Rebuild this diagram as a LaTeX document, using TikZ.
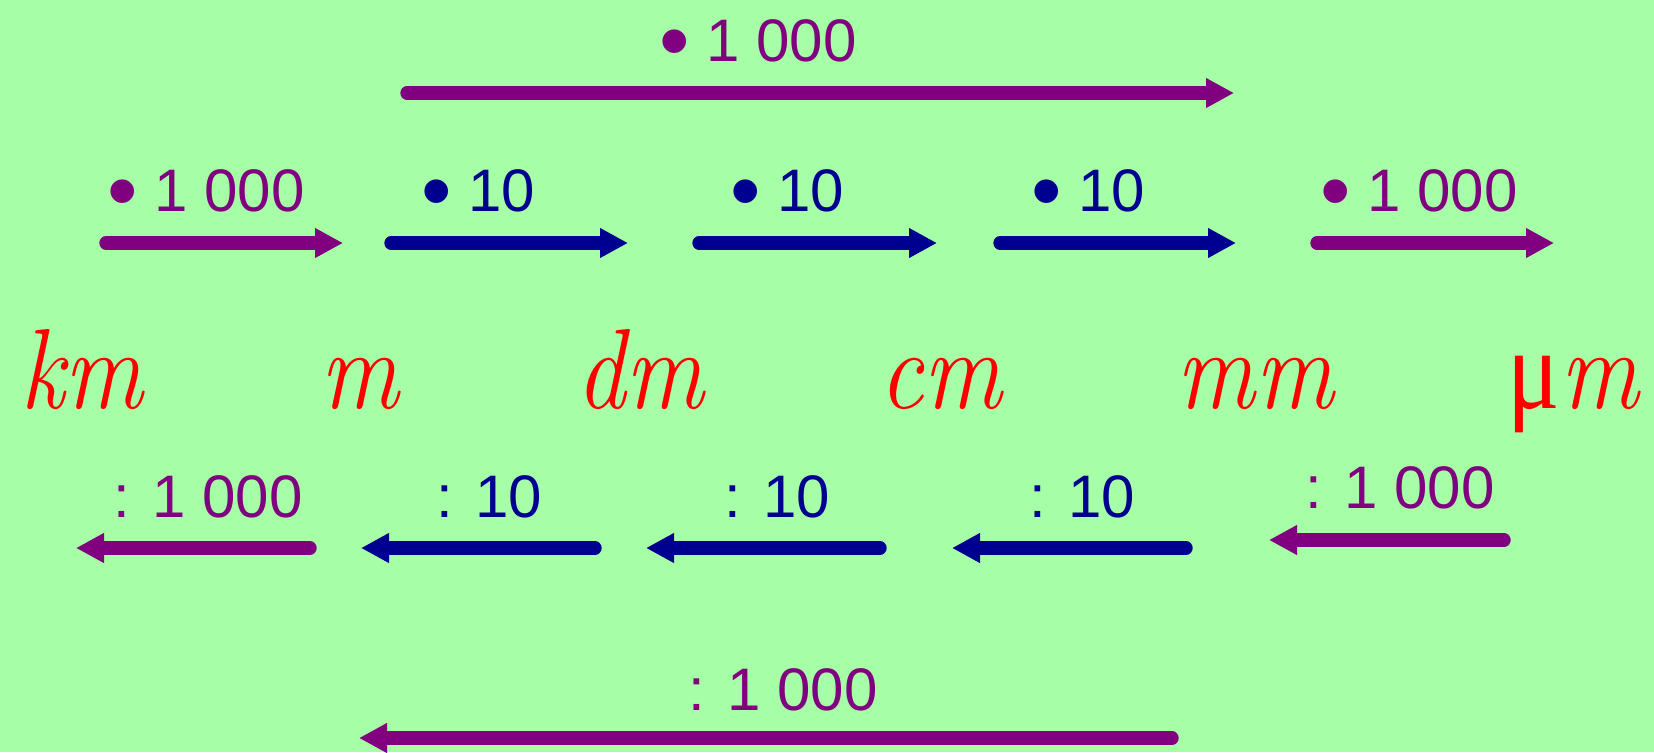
\documentclass[tikz,border=0pt]{standalone}
\usepackage{fontspec}
\setmainfont{Liberation Sans}
\newfontfamily\unitfont{Latin Modern Roman}
\newfontfamily\greekfont{Liberation Serif}
\usetikzlibrary{arrows.meta}
\definecolor{bg}{RGB}{166,255,166}
\definecolor{pur}{RGB}{128,0,128}
\definecolor{nav}{RGB}{0,0,144}
\definecolor{unitred}{RGB}{255,0,0}
\tikzset{
  arr/.style={line width=6.7pt, line cap=round, -{Triangle[length=14pt,width=14pt]}},
  lbl/.style={anchor=base, inner sep=0pt, font=\fontsize{30pt}{36pt}\selectfont},
  unit/.style={anchor=base, inner sep=0pt, text=unitred, font=\fontsize{57pt}{60pt}\selectfont\unitfont\itshape},
}
\newcommand{\ut}[1]{\scalebox{0.86}[1]{#1}}
\newcommand{\bul}{\raisebox{-4.5pt}{\scalebox{1.45}{•}}}
\begin{document}
\begin{tikzpicture}[x=0.5pt,y=-0.5pt]
\fill[bg] (0,0) rectangle (1654,752);
\useasboundingbox (0,0) rectangle (1654,752);
% top
\node[lbl,text=pur] (ltop) at (758,61) {\bul\ 1 000};
\coordinate (t1) at (407,93); \coordinate (t2) at (1234,93);
\draw[arr,pur] (t1) -- (t2);
% row 2 labels
\node[lbl,text=pur] (l1) at (206,211) {\bul\ 1 000};
\node[lbl,text=nav] (l2) at (478,211) {\bul\ 10};
\node[lbl,text=nav] (l3) at (787,211) {\bul\ 10};
\node[lbl,text=nav] (l4) at (1088,211) {\bul\ 10};
\node[lbl,text=pur] (l5) at (1419,211) {\bul\ 1 000};
% row 2 arrows
\coordinate (a1s) at (106,243); \coordinate (a1e) at (343,243);
\coordinate (a2s) at (391,243); \coordinate (a2e) at (628,243);
\coordinate (a3s) at (699,243); \coordinate (a3e) at (937,243);
\coordinate (a4s) at (1000,243); \coordinate (a4e) at (1236,243);
\coordinate (a5s) at (1317,243); \coordinate (a5e) at (1554,243);
\draw[arr,pur] (a1s) -- (a1e);
\draw[arr,nav] (a2s) -- (a2e);
\draw[arr,nav] (a3s) -- (a3e);
\draw[arr,nav] (a4s) -- (a4e);
\draw[arr,pur] (a5s) -- (a5e);
% units
\node[unit] (km) at (82,408) {\ut{km}};
\node[unit] (m) at (360,408) {\ut{m}};
\node[unit] (dm) at (640,408) {\ut{dm}};
\node[unit] (cm) at (941,408) {\ut{cm}};
\node[unit] (mm) at (1255,408) {\ut{mm}};
\node[unit] (um) at (1573,408) {\ut{{\greekfont\upshape μ}m}};
% row 4 labels
\node[lbl,text=pur] (b1) at (208,517) {: 1 000};
\node[lbl,text=nav] (b2) at (489,517) {: 10};
\node[lbl,text=nav] (b3) at (777,517) {: 10};
\node[lbl,text=nav] (b4) at (1082,517) {: 10};
\node[lbl,text=pur] (b5) at (1400,508) {: 1 000};
% row 4 arrows
\coordinate (c1s) at (310,548); \coordinate (c1e) at (76,548);
\coordinate (c2s) at (595,548); \coordinate (c2e) at (361,548);
\coordinate (c3s) at (880,548); \coordinate (c3e) at (646,548);
\coordinate (c4s) at (1186,548); \coordinate (c4e) at (952,548);
\coordinate (c5s) at (1504,540); \coordinate (c5e) at (1269,540);
\draw[arr,pur] (c1s) -- (c1e);
\draw[arr,nav] (c2s) -- (c2e);
\draw[arr,nav] (c3s) -- (c3e);
\draw[arr,nav] (c4s) -- (c4e);
\draw[arr,pur] (c5s) -- (c5e);
% bottom
\node[lbl,text=pur] (lbot) at (783,710) {: 1 000};
\coordinate (d1) at (1172,738); \coordinate (d2) at (359,738);
\draw[arr,pur] (d1) -- (d2);
\end{tikzpicture}
\end{document}
